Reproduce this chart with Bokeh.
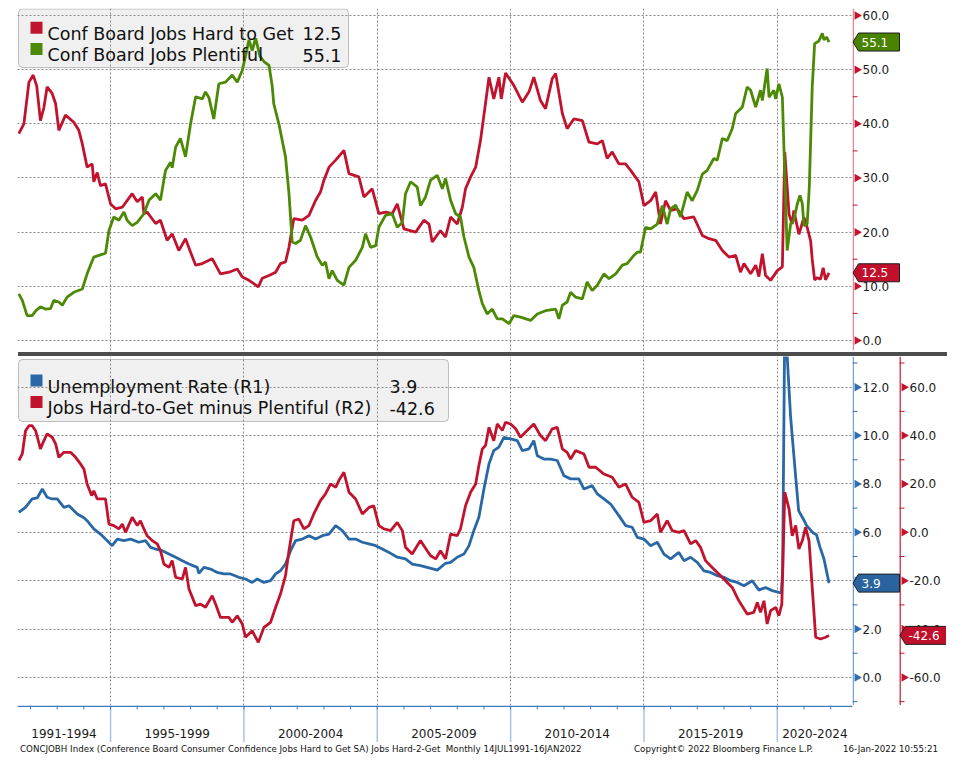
import math
from bokeh.plotting import figure
from bokeh.models import Range1d, FixedTicker, Grid, BoxAnnotation, Label, Div
from bokeh.layouts import column, row
from bokeh.core.properties import value
from bokeh.embed import file_html
from bokeh.resources import INLINE

# ---------------- data ----------------
hard_name = "Conf Board Jobs Hard to Get"
hard_x = [1991.56, 1991.75, 1991.94, 1992.10, 1992.23, 1992.37, 1992.50, 1992.62, 1992.81, 1992.94,
          1993.06, 1993.31, 1993.62, 1993.81, 1993.94, 1994.12, 1994.31, 1994.37, 1994.50, 1994.62,
          1994.81, 1995.00, 1995.19, 1995.44, 1995.81, 1996.00, 1996.19, 1996.25, 1996.37, 1996.69,
          1996.87, 1997.12, 1997.31, 1997.56, 1997.81, 1998.00, 1998.19, 1998.44, 1998.81, 1999.12,
          1999.44, 1999.75, 1999.94, 2000.19, 2000.37, 2000.54, 2000.69, 2000.94, 2001.19, 2001.37,
          2001.56, 2001.69, 2001.87, 2002.19, 2002.44, 2002.69, 2002.87, 2003.00, 2003.19, 2003.44,
          2003.75, 2003.94, 2004.31, 2004.50, 2004.81, 2005.06, 2005.31, 2005.56, 2005.75, 2006.00,
          2006.44, 2006.75, 2006.94, 2007.06, 2007.37, 2007.56, 2007.75, 2008.00, 2008.19, 2008.31,
          2008.50, 2008.69, 2008.87, 2009.00, 2009.19, 2009.37, 2009.56, 2009.65, 2009.81, 2010.12,
          2010.44, 2010.69, 2010.87, 2011.12, 2011.31, 2011.56, 2011.69, 2011.94, 2012.12, 2012.37,
          2012.69, 2012.94, 2013.25, 2013.44, 2013.62, 2013.81, 2014.06, 2014.31, 2014.50, 2014.81,
          2015.00, 2015.25, 2015.44, 2015.62, 2015.81, 2016.00, 2016.25, 2016.50, 2016.87, 2017.19,
          2017.44, 2017.69, 2017.94, 2018.19, 2018.44, 2018.62, 2018.75, 2019.00, 2019.19, 2019.31,
          2019.44, 2019.56, 2019.75, 2020.00, 2020.19, 2020.28, 2020.44, 2020.56, 2020.62, 2020.81,
          2021.00, 2021.12, 2021.25, 2021.31, 2021.40, 2021.50, 2021.62, 2021.72, 2021.81, 2021.94]
hard_y = [38.2, 40.0, 47.7, 49.0, 47.0, 40.6, 43.0, 46.8, 45.6, 43.7,
          38.8, 41.6, 40.3, 38.8, 36.3, 32.0, 32.6, 29.3, 31.0, 28.6,
          28.9, 25.2, 24.3, 24.6, 27.1, 25.6, 26.5, 23.4, 23.7, 21.6,
          22.2, 18.5, 19.7, 16.6, 18.8, 16.3, 13.9, 14.2, 15.1, 12.3,
          12.6, 13.2, 11.7, 11.1, 10.5, 9.9, 11.5, 12.0, 12.6, 14.2,
          14.5, 17.2, 22.5, 22.2, 23.1, 25.9, 27.4, 29.6, 32.0, 33.3,
          35.1, 30.8, 30.2, 26.5, 28.0, 23.4, 23.7, 23.4, 25.2, 20.6,
          20.0, 22.2, 21.5, 18.2, 20.3, 19.1, 22.8, 21.5, 24.6, 28.0,
          30.2, 32.0, 36.9, 41.6, 48.6, 44.6, 48.6, 44.6, 49.4, 47.1,
          44.0, 45.9, 48.6, 44.3, 42.8, 48.3, 49.3, 41.9, 39.1, 40.9,
          40.6, 36.6, 36.3, 36.9, 33.6, 34.8, 32.6, 32.6, 31.4, 29.3,
          24.9, 25.8, 27.4, 21.5, 25.8, 24.0, 24.3, 22.5, 22.8, 19.4,
          18.8, 18.5, 16.6, 15.4, 15.7, 12.6, 14.2, 12.3, 13.9, 11.8,
          16.0, 12.0, 11.1, 12.9, 13.6, 34.8, 23.3, 21.5, 24.0, 19.6,
          22.7, 20.9, 18.4, 15.0, 11.2, 11.6, 11.3, 13.4, 11.2, 12.5]

plent_name = "Conf Board Jobs Plentiful"
plent_x = [1991.56, 1991.69, 1991.87, 1992.06, 1992.20, 1992.37, 1992.56, 1992.75, 1992.87, 1993.06,
           1993.19, 1993.37, 1993.62, 1993.94, 1994.12, 1994.37, 1994.56, 1994.81, 1994.94, 1995.12,
           1995.31, 1995.50, 1995.62, 1995.81, 1996.00, 1996.25, 1996.44, 1996.69, 1996.87, 1997.06,
           1997.25, 1997.31, 1997.44, 1997.62, 1997.81, 1998.00, 1998.19, 1998.44, 1998.56, 1998.69,
           1998.87, 1999.06, 1999.31, 1999.56, 1999.75, 1999.94, 2000.06, 2000.19, 2000.31, 2000.44,
           2000.60, 2000.75, 2000.94, 2001.06, 2001.12, 2001.31, 2001.56, 2001.69, 2001.81, 2001.94,
           2002.12, 2002.31, 2002.50, 2002.75, 2002.94, 2003.06, 2003.19, 2003.31, 2003.50, 2003.75,
           2003.94, 2004.19, 2004.44, 2004.56, 2004.75, 2004.94, 2005.06, 2005.31, 2005.56, 2005.75,
           2005.94, 2006.06, 2006.25, 2006.50, 2006.62, 2006.81, 2007.00, 2007.25, 2007.44, 2007.56,
           2007.75, 2007.94, 2008.12, 2008.25, 2008.44, 2008.62, 2008.81, 2008.94, 2009.12, 2009.31,
           2009.50, 2009.69, 2009.94, 2010.12, 2010.37, 2010.75, 2011.00, 2011.31, 2011.69, 2011.81,
           2011.94, 2012.12, 2012.25, 2012.44, 2012.69, 2012.87, 2013.06, 2013.25, 2013.50, 2013.69,
           2013.94, 2014.19, 2014.37, 2014.62, 2014.75, 2014.87, 2015.06, 2015.25, 2015.50, 2015.69,
           2015.87, 2016.00, 2016.19, 2016.37, 2016.62, 2016.81, 2017.00, 2017.19, 2017.37, 2017.62,
           2017.75, 2017.94, 2018.12, 2018.31, 2018.44, 2018.69, 2018.87, 2019.00, 2019.19, 2019.37,
           2019.44, 2019.62, 2019.69, 2019.87, 2019.94, 2020.06, 2020.19, 2020.37, 2020.50, 2020.62,
           2020.75, 2020.85, 2020.94, 2021.00, 2021.12, 2021.20, 2021.31, 2021.40, 2021.56, 2021.69,
           2021.75, 2021.85, 2021.94]
plent_y = [8.6, 7.4, 4.6, 4.6, 5.5, 6.2, 5.8, 5.9, 7.4, 7.1,
           6.5, 8.0, 8.9, 9.5, 12.3, 15.4, 15.7, 16.1, 20.3, 22.8,
           22.2, 23.7, 22.2, 21.2, 21.8, 23.4, 25.9, 27.1, 25.9, 31.4,
           32.9, 31.9, 35.7, 37.3, 33.9, 40.0, 45.0, 44.6, 45.9, 44.8,
           40.9, 47.4, 47.7, 49.0, 47.7, 49.9, 52.5, 55.5, 53.5, 55.8,
           52.5, 51.5, 50.8, 47.0, 43.7, 40.0, 33.9, 27.1, 18.2, 17.9,
           18.5, 21.2, 19.1, 15.4, 13.9, 14.5, 11.4, 12.9, 11.1, 10.2,
           13.5, 14.8, 17.2, 19.7, 17.2, 17.5, 20.9, 23.1, 23.4, 20.9,
           21.8, 27.1, 29.3, 28.3, 24.9, 26.5, 29.6, 30.5, 28.0, 29.9,
           25.9, 23.4, 22.8, 19.1, 15.4, 13.5, 9.2, 6.8, 4.9, 5.8,
           4.0, 4.0, 3.1, 4.6, 4.3, 3.7, 4.9, 5.5, 5.8, 4.0,
           6.5, 7.1, 8.9, 8.0, 7.7, 10.8, 9.2, 10.2, 12.3, 11.4,
           12.3, 13.9, 14.2, 15.7, 16.3, 16.3, 20.9, 20.6, 21.5, 24.9,
           21.5, 24.3, 25.0, 22.8, 27.4, 25.8, 27.7, 30.7, 31.4, 33.6,
           33.3, 37.3, 36.9, 39.1, 41.9, 43.1, 46.8, 46.2, 43.1, 46.2,
           44.3, 50.2, 44.9, 46.2, 44.6, 47.4, 44.9, 16.6, 21.5, 22.2,
           25.2, 26.8, 25.2, 21.2, 21.5, 28.3, 46.8, 54.8, 55.3, 56.7,
           55.5, 56.0, 55.1]

un_name = "Unemployment Rate (R1)"
un_x = [1991.56, 1991.81, 1992.06, 1992.25, 1992.44, 1992.62, 1992.81, 1993.00, 1993.25, 1993.44,
        1993.75, 1994.00, 1994.12, 1994.37, 1994.62, 1994.81, 1995.06, 1995.25, 1995.50, 1995.75,
        1996.06, 1996.31, 1996.50, 1996.69, 1996.94, 1997.19, 1997.44, 1997.69, 1997.94, 1998.25,
        1998.31, 1998.50, 1998.75, 1999.00, 1999.25, 1999.50, 1999.81, 2000.06, 2000.31, 2000.50,
        2000.75, 2001.00, 2001.19, 2001.37, 2001.56, 2001.75, 2001.94, 2002.19, 2002.44, 2002.69,
        2002.94, 2003.19, 2003.44, 2003.69, 2003.94, 2004.19, 2004.44, 2004.69, 2004.94, 2005.19,
        2005.44, 2005.75, 2006.06, 2006.31, 2006.62, 2006.87, 2007.12, 2007.25, 2007.56, 2007.75,
        2008.00, 2008.25, 2008.44, 2008.62, 2008.81, 2009.00, 2009.19, 2009.37, 2009.56, 2009.75,
        2010.00, 2010.25, 2010.44, 2010.69, 2010.87, 2011.00, 2011.25, 2011.50, 2011.75, 2012.00,
        2012.25, 2012.56, 2012.75, 2013.06, 2013.25, 2013.50, 2013.75, 2014.06, 2014.31, 2014.56,
        2014.75, 2015.00, 2015.25, 2015.50, 2015.75, 2016.00, 2016.31, 2016.50, 2016.75, 2017.00,
        2017.25, 2017.50, 2017.75, 2018.00, 2018.25, 2018.50, 2018.75, 2019.06, 2019.31, 2019.56,
        2019.81, 2020.06, 2020.15, 2020.20, 2020.28, 2020.37, 2020.50, 2020.68, 2020.80, 2021.00,
        2021.10, 2021.35, 2021.47, 2021.60, 2021.75, 2021.94]
un_y = [6.83, 7.03, 7.38, 7.42, 7.79, 7.45, 7.38, 7.38, 7.03, 7.10,
        6.76, 6.60, 6.48, 6.14, 5.93, 5.72, 5.45, 5.72, 5.66, 5.72,
        5.59, 5.66, 5.38, 5.31, 5.24, 5.10, 4.97, 4.83, 4.69, 4.55,
        4.30, 4.55, 4.48, 4.34, 4.28, 4.28, 4.14, 4.07, 3.93, 4.07,
        3.93, 4.00, 4.28, 4.41, 4.69, 5.24, 5.66, 5.72, 5.86, 5.72,
        5.86, 5.93, 6.28, 6.07, 5.72, 5.72, 5.59, 5.52, 5.45, 5.31,
        5.17, 4.97, 4.90, 4.69, 4.62, 4.55, 4.48, 4.44, 4.72, 4.76,
        4.97, 5.10, 5.45, 6.07, 6.62, 7.79, 8.83, 9.38, 9.52, 9.93,
        9.86, 9.79, 9.38, 9.45, 9.79, 9.17, 9.03, 9.03, 8.97, 8.34,
        8.21, 8.21, 7.79, 7.93, 7.59, 7.38, 7.17, 6.69, 6.28, 6.21,
        5.79, 5.72, 5.45, 5.59, 5.10, 4.90, 5.17, 4.83, 4.97, 4.76,
        4.41, 4.34, 4.21, 4.14, 4.00, 3.93, 3.79, 4.00, 3.61, 3.72,
        3.59, 3.52, 3.50, 4.40, 14.70, 13.30, 10.76, 8.42, 6.90, 6.50,
        6.28, 5.97, 5.90, 5.39, 4.90, 3.90]

diff_name = "Jobs Hard-to-Get minus Plentiful (R2)"
diff_x = [1991.56, 1991.69, 1991.81, 1991.94, 1992.06, 1992.19, 1992.37, 1992.50, 1992.62, 1992.81,
          1992.94, 1993.06, 1993.25, 1993.50, 1993.69, 1993.87, 1994.00, 1994.12, 1994.29, 1994.37,
          1994.50, 1994.81, 1994.94, 1995.12, 1995.31, 1995.44, 1995.56, 1995.81, 1996.00, 1996.12,
          1996.25, 1996.37, 1996.56, 1996.75, 1996.87, 1997.00, 1997.19, 1997.31, 1997.44, 1997.69,
          1997.81, 1997.94, 1998.19, 1998.37, 1998.56, 1998.81, 1998.94, 1999.12, 1999.44, 1999.56,
          1999.75, 1999.94, 2000.06, 2000.31, 2000.54, 2000.75, 2001.00, 2001.19, 2001.37, 2001.56,
          2001.69, 2001.87, 2002.06, 2002.25, 2002.44, 2002.62, 2002.87, 2003.06, 2003.25, 2003.44,
          2003.56, 2003.75, 2003.94, 2004.19, 2004.44, 2004.69, 2004.87, 2005.06, 2005.25, 2005.50,
          2005.75, 2005.94, 2006.06, 2006.31, 2006.62, 2006.87, 2007.00, 2007.19, 2007.37, 2007.56,
          2007.75, 2008.00, 2008.12, 2008.31, 2008.50, 2008.69, 2008.81, 2008.94, 2009.06, 2009.19,
          2009.37, 2009.50, 2009.69, 2009.81, 2010.00, 2010.19, 2010.37, 2010.62, 2010.87, 2011.12,
          2011.31, 2011.56, 2011.75, 2011.94, 2012.12, 2012.25, 2012.44, 2012.75, 2012.94, 2013.19,
          2013.50, 2013.81, 2014.06, 2014.31, 2014.56, 2014.81, 2015.00, 2015.25, 2015.50, 2015.62,
          2015.87, 2016.06, 2016.31, 2016.50, 2016.75, 2016.94, 2017.12, 2017.31, 2017.56, 2017.81,
          2018.06, 2018.31, 2018.56, 2018.87, 2019.12, 2019.25, 2019.37, 2019.50, 2019.62, 2019.75,
          2019.94, 2020.06, 2020.17, 2020.28, 2020.44, 2020.56, 2020.69, 2020.81, 2020.94, 2021.06,
          2021.19, 2021.31, 2021.44, 2021.62, 2021.81, 2021.94]
diff_y = [29.7, 32.4, 42.0, 44.1, 44.1, 42.0, 34.5, 37.9, 40.7, 39.3,
          36.6, 31.0, 33.1, 33.1, 31.0, 28.3, 26.2, 20.0, 15.2, 17.2,
          13.8, 13.8, 3.4, 2.8, 1.4, 3.4, 0.0, 6.2, 2.8, 4.8,
          1.4, -1.4, -3.4, -4.8, -7.6, -13.1, -14.5, -11.7, -18.6, -19.3,
          -14.5, -23.4, -30.3, -29.7, -31.0, -26.2, -29.7, -35.2, -35.2, -37.2,
          -34.5, -37.9, -43.4, -40.7, -45.5, -39.3, -37.2, -31.0, -25.5, -17.9,
          -7.6, 4.8, 5.5, 1.4, 2.8, 7.6, 13.1, 15.9, 20.0, 18.6,
          21.4, 24.8, 16.6, 13.8, 7.6, 10.3, 11.0, 2.8, 1.4, 0.7,
          4.1, 0.7, -6.2, -9.0, -3.4, -7.6, -9.7, -11.0, -7.6, -11.0,
          -0.7, -1.4, 1.4, 11.0, 16.6, 20.0, 27.6, 34.5, 35.9, 43.4,
          37.9, 44.8, 42.1, 45.5, 44.8, 42.8, 39.3, 42.1, 44.8, 40.0,
          37.9, 42.8, 43.4, 34.5, 33.1, 30.3, 33.8, 32.4, 26.9, 26.9,
          24.1, 22.8, 18.6, 20.0, 14.5, 12.4, 4.1, 4.8, 7.6, 0.0,
          4.8, 0.7, 0.0, 0.7, -4.8, -3.4, -6.2, -11.7, -14.5, -17.2,
          -20.0, -22.8, -28.3, -33.8, -33.1, -29.0, -33.1, -28.3, -37.9, -32.4,
          -31.0, -34.5, -29.7, 16.6, 9.7, -1.4, 2.8, -6.9, -3.4, 2.1,
          -3.4, -22.8, -43.4, -44.1, -43.4, -42.6]

period_labels = ["1991-1994", "1995-1999", "2000-2004", "2005-2009", "2010-2014", "2015-2019", "2020-2024"]
period_bounds = [1995, 2000, 2005, 2010, 2015, 2020]
year_ticks = list(range(1992, 2023))
top_ticks = [0, 10, 20, 30, 40, 50, 60]
top_minor = [5, 15, 25, 35, 45, 55]
r1_ticks = [0, 2, 4, 6, 8, 10, 12]
r1_minor = [-1, 1, 3, 5, 7, 9, 11, 13]
r2_ticks = [-60, -40, -20, 0, 20, 40, 60]
r2_minor = [-70, -50, -30, -10, 10, 30, 50, 70]
footer_left = "CONCJOBH Index (Conference Board Consumer Confidence Jobs Hard to Get SA) Jobs Hard-2-Get&nbsp; Monthly 14JUL1991-16JAN2022"
footer_mid = "Copyright&copy; 2022 Bloomberg Finance L.P."
footer_right = "16-Jan-2022 10:55:21"

# ---------------- styling / geometry ----------------
RED = "#c0142e"
GREEN = "#4c8a06"
BLUE = "#2a68a5"
FONT = "DejaVu Sans"
GRID = "#8a8a8a"
LW = 2.8

X0, X1 = 1991.51, 2022.82
FW, FL = 835, 17          # frame width, frame left (page px)
AW = 94                   # width of the right-hand axis strip
PPX = FW / (X1 - X0)
xr = Range1d(X0, X1)


def xd(px):
    return X0 + (px - FL) / PPX


T0, T1, TH, TT = -1.85, 61.29, 342, 8
PPT = TH / (T1 - T0)


def ty(py):
    return T1 - (py - TT) / PPT


B0, B1, BH, BT = -1.16, 13.27, 349, 356
PPB = BH / (B1 - B0)


def by(py):
    return B1 - (py - BT) / PPB


COMMON = dict(toolbar_location=None, output_backend="svg", x_axis_type=None,
              y_axis_type=None, outline_line_color=None,
              background_fill_color="white", border_fill_color="white")


def make_main(frame_h, yr, top_b, bot_b, ticks):
    p = figure(frame_width=FW, frame_height=frame_h, x_range=xr, y_range=yr,
               min_border_left=FL, min_border_right=0, min_border_top=top_b,
               min_border_bottom=bot_b, **COMMON)
    p.add_layout(Grid(dimension=1, ticker=FixedTicker(ticks=ticks),
                      grid_line_color=GRID, grid_line_dash="2 2"))
    p.add_layout(Grid(dimension=0, ticker=FixedTicker(ticks=period_bounds),
                      grid_line_color=GRID, grid_line_dash="2 2"))
    return p


def make_axis_fig(frame_h, yr, top_b, bot_b):
    return figure(frame_width=AW, frame_height=frame_h, x_range=Range1d(0, AW), y_range=yr,
                  min_border_left=0, min_border_right=0, min_border_top=top_b,
                  min_border_bottom=bot_b, **COMMON)


def draw_axis(a, x0, lo, hi, ticks, minor, line_color, tick_color, rname="default"):
    a.segment(x0=[x0 + 0.75], y0=[lo], x1=[x0 + 0.75], y1=[hi], line_color=line_color,
              line_width=1.5, y_range_name=rname)
    a.scatter(x=[x0 + 4.5] * len(ticks), y=ticks, marker="triangle", size=8.5, angle=-math.pi / 2,
              fill_color=tick_color, line_color=None, y_range_name=rname)
    a.segment(x0=x0, y0=minor, x1=x0 + 5, y1=minor, line_color=tick_color, line_width=1,
              y_range_name=rname)
    a.text(x=x0 + 10, y=ticks, text=[f"{t:.1f}" for t in ticks], text_font=value(FONT),
           text_font_size="12px", text_baseline="middle", text_color="#1a1a1a", y_range_name=rname)


def draw_tag(a, x0, yval, text, fill, ppy, rname="default"):
    h = 9 / ppy
    a.patch(x=[x0 + 0.5, x0 + 6, x0 + 47, x0 + 47, x0 + 6],
            y=[yval, yval + h, yval + h, yval - h, yval - h],
            fill_color=fill, line_color="#1e1e1e", line_width=1, y_range_name=rname)
    a.text(x=[x0 + 9], y=[yval], text=[text], text_font=value(FONT), text_font_size="12px",
           text_baseline="middle", text_color="white", y_range_name=rname)


def add_legend(p, yconv, box, rows, val_px):
    left, right, top, bottom = box
    p.add_layout(BoxAnnotation(left=xd(left), right=xd(right), top=yconv(top), bottom=yconv(bottom),
                               fill_color="#f0f0f0", fill_alpha=1, line_color="#3a3a3a", line_width=1,
                               border_radius=4, level="image"))
    for name, val, color, base in rows:
        p.add_layout(BoxAnnotation(left=xd(30), right=xd(42), top=yconv(base - 12), bottom=yconv(base),
                                   fill_color=color, fill_alpha=1, line_color=None, level="annotation"))
        p.add_layout(Label(x=xd(47), y=yconv(base), text=name, text_font=FONT, text_font_size="17.5px",
                           text_color="#111111", text_baseline="alphabetic"))
        p.add_layout(Label(x=xd(val_px), y=yconv(base), text=val, text_font=FONT, text_font_size="17.5px",
                           text_color="#111111", text_baseline="alphabetic"))


# ---------------- top panel ----------------
top_yr = Range1d(T0, T1)
top = make_main(TH, top_yr, TT, 2, top_ticks)
add_legend(top, ty, (18, 348, 8.5, 67),
           [(hard_name, f"{hard_y[-1]:.1f}", RED, 33.3), (plent_name, f"{plent_y[-1]:.1f}", GREEN, 54.5)], 302)
top.line(hard_x, hard_y, line_color=RED, line_width=LW)
top.line(plent_x, plent_y, line_color=GREEN, line_width=LW)

top_ax = make_axis_fig(TH, top_yr, TT, 2)
draw_axis(top_ax, 0, T0, T1, top_ticks, top_minor, "#dc8a96", RED)
draw_tag(top_ax, 0, plent_y[-1], f"{plent_y[-1]:.1f}", "#4a8300", PPT)
draw_tag(top_ax, 0, hard_y[-1], f"{hard_y[-1]:.1f}", "#c0102c", PPT)

sep = Div(text="", width=929, height=4, margin=(0, 0, 0, 18),
          styles={"background-color": "#4d4d4d"})

# ---------------- bottom panel ----------------
bot_yr = Range1d(B0, B1)
r2_range = Range1d(10 * B0 - 60, 10 * B1 - 60)
bot = make_main(BH, bot_yr, 0, 0, r1_ticks)
bot.extra_y_ranges = {"r2": r2_range}
add_legend(bot, by, (18, 448, 359, 421),
           [(un_name, f"{un_y[-1]:.1f}", BLUE, 386), (diff_name, f"{diff_y[-1]:.1f}", RED, 407.5)], 389)
bot.line(un_x, un_y, line_color=BLUE, line_width=LW)
bot.line(diff_x, diff_y, line_color=RED, line_width=LW, y_range_name="r2")

bot_ax = make_axis_fig(BH, bot_yr, 0, 0)
bot_ax.extra_y_ranges = {"r2": r2_range}
draw_axis(bot_ax, 0, B0, B1, r1_ticks, r1_minor, "#73a2d6", "#2f6db0")
draw_axis(bot_ax, 47, 10 * B0 - 60, 10 * B1 - 60, r2_ticks, r2_minor, "#d14a5e", RED, "r2")
draw_tag(bot_ax, 0, un_y[-1], f"{un_y[-1]:.1f}", "#2a64a0", PPB)
draw_tag(bot_ax, 47, diff_y[-1], f"{diff_y[-1]:.1f}", "#c0102c", PPB / 10, "r2")

# ---------------- x-axis strip ----------------
strip = figure(frame_width=FW, frame_height=37, x_range=xr, y_range=Range1d(0, 37),
               min_border_left=FL, min_border_right=AW, min_border_top=0, min_border_bottom=0,
               **COMMON)
strip.segment(x0=period_bounds, y0=37, x1=period_bounds, y1=0, line_color="#a8c4e6", line_width=1.5)
strip.segment(x0=year_ticks, y0=37, x1=year_ticks, y1=33, line_color="#3d7cc0", line_width=1)
strip.segment(x0=[X0], y0=[36.3], x1=[X1], y1=[36.3], line_color="#3d7cc0", line_width=1.6)
edges = [X0] + period_bounds + [X1]
centers = [(edges[i] + edges[i + 1]) / 2 for i in range(len(period_labels))]
strip.text(x=centers, y=9.5, text=period_labels, text_font=value(FONT), text_font_size="12px",
           text_align="center", text_baseline="middle", text_color="#1a1a1a")

footer_html = (
    '<div style="position:relative;width:946px;height:13px;font-family:\'DejaVu Sans\';'
    'font-size:8.7px;line-height:11px;color:#111;white-space:nowrap">'
    f'<span style="position:absolute;left:20px;top:2px">{footer_left}</span>'
    f'<span style="position:absolute;left:634px;top:2px">{footer_mid}</span>'
    f'<span style="position:absolute;left:843px;top:2px">{footer_right}</span></div>'
)
footer = Div(text=footer_html, width=946, height=13, margin=(0, 0, 0, 0))

layout = column(row(top, top_ax, spacing=0), sep, row(bot, bot_ax, spacing=0), strip, footer, spacing=0)
open("out.html", "w").write(file_html(layout, INLINE))
